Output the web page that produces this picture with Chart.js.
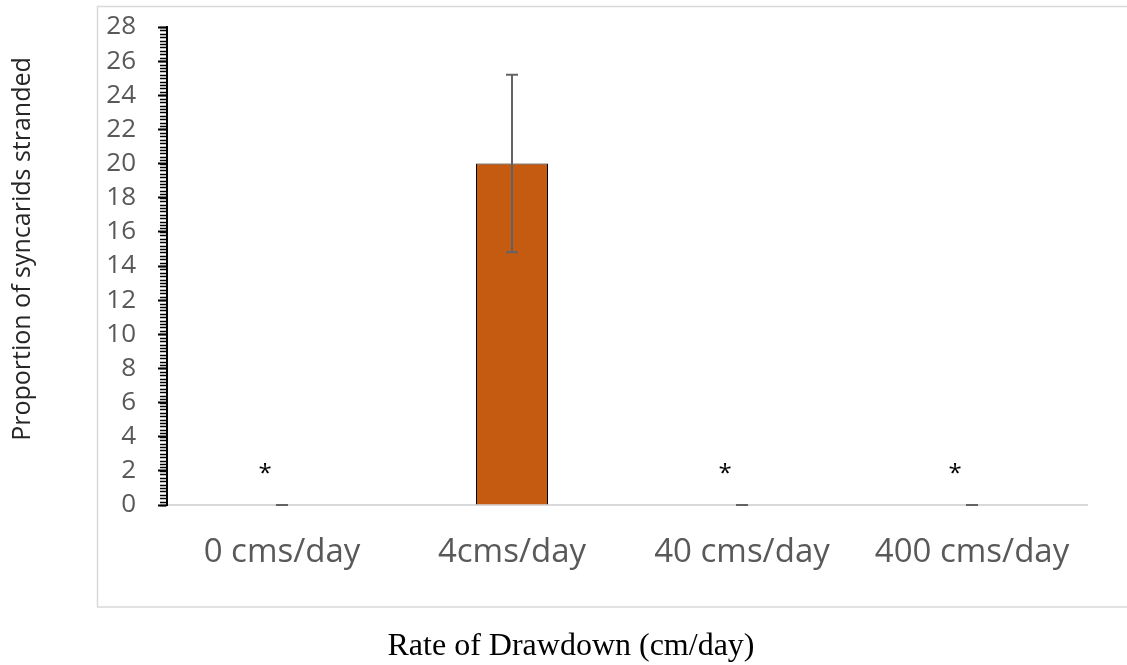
<!DOCTYPE html>
<html>
<head>
<meta charset="utf-8">
<script src="https://cdn.jsdelivr.net/npm/chart.js@4.4.0/dist/chart.umd.min.js"></script>
<style>
  html, body { margin: 0; padding: 0; background: #fff; }
  #wrap { width: 1127px; height: 665px; position: relative; }
</style>
</head>
<body>
<div id="wrap"><canvas id="chart" width="1127" height="665"></canvas></div>
<script>
// Dados do gráfico
const categories = ['0 cms/day', '4cms/day', '40 cms/day', '400 cms/day'];
const stranded = [0, 20, 0, 0];
const errorSize = [0, 5.2, 0, 0];
const markers = ['*', '', '*', '*'];
const yTicks = [0, 2, 4, 6, 8, 10, 12, 14, 16, 18, 20, 22, 24, 26, 28];
const yTitle = 'Proportion of syncarids stranded';
const xTitle = 'Rate of Drawdown (cm/day)';

// Moldura cinza e títulos dos eixos
const framePlugin = {
    id: 'frame',
    beforeDraw(chart) {
        const ctx = chart.ctx;
        ctx.save();
        ctx.strokeStyle = '#d9d9d9';
        ctx.lineWidth = 1.5;
        ctx.strokeRect(97.5, 6.5, 1040, 600.5);

        ctx.fillStyle = '#000';
        ctx.textAlign = 'center';
        ctx.textBaseline = 'middle';
        ctx.font = '32px "Liberation Serif"';
        ctx.fillText(xTitle, 571, 647);

        ctx.fillStyle = '#262626';
        ctx.font = '25px "Open Sans"';
        ctx.translate(23, 249);
        ctx.rotate(-Math.PI / 2);
        ctx.fillText(yTitle, 0, 0);
        ctx.restore();
    }
};

// Marcas menores do eixo Y, barras de erro e asteriscos
const extrasPlugin = {
    id: 'extras',
    afterDatasetsDraw(chart) {
        const ctx = chart.ctx;
        const y = chart.scales.y;
        const x = chart.scales.x;
        ctx.save();

        // minor ticks a cada 0.2
        ctx.strokeStyle = '#000';
        ctx.lineWidth = 1.5;
        const axisX = chart.chartArea.left;
        for (let v = 0; v <= 28.001; v += 0.2) {
            const py = Math.round(y.getPixelForValue(v)) + 0.5;
            ctx.beginPath();
            ctx.moveTo(axisX - 7, py);
            ctx.lineTo(axisX, py);
            ctx.stroke();
        }

        // barras de erro
        ctx.strokeStyle = '#636363';
        ctx.lineWidth = 2;
        stranded.forEach((val, i) => {
            const cx = x.getPixelForValue(i);
            const top = y.getPixelForValue(val + errorSize[i]);
            const bot = y.getPixelForValue(val - errorSize[i]);
            ctx.beginPath();
            ctx.moveTo(cx, top);
            ctx.lineTo(cx, bot);
            ctx.moveTo(cx - 6, top);
            ctx.lineTo(cx + 6, top);
            ctx.moveTo(cx - 6, bot);
            ctx.lineTo(cx + 6, bot);
            ctx.stroke();
        });

        // asteriscos
        ctx.fillStyle = '#000';
        ctx.font = '24px "Open Sans"';
        ctx.textAlign = 'center';
        ctx.textBaseline = 'middle';
        markers.forEach((m, i) => {
            if (!m) return;
            ctx.fillText(m, x.getPixelForValue(i) - 17, y.getPixelForValue(2) + 3);
        });
        ctx.restore();
    }
};

new Chart(document.getElementById('chart'), {
    type: 'bar',
    data: {
        labels: categories,
        datasets: [{
            label: yTitle,
            data: stranded,
            backgroundColor: '#c55a11',
            borderColor: '#000',
            borderWidth: 1,
            categoryPercentage: 1,
            barPercentage: 0.313
        }]
    },
    options: {
        responsive: false,
        animation: false,
        layout: { padding: { left: 0, right: 40, top: 27, bottom: 0 } },
        plugins: { legend: { display: false }, tooltip: { enabled: false } },
        scales: {
            x: {
                grid: { display: false, drawTicks: false },
                border: { color: '#d9d9d9', width: 2 },
                ticks: {
                    color: '#595959',
                    font: { family: '"Open Sans"', size: 33 },
                    padding: 28
                },
                afterFit(scale) { scale.height = 160; }
            },
            y: {
                min: 0,
                max: 28,
                afterBuildTicks(scale) { scale.ticks = yTicks.map(v => ({ value: v })); },
                grid: {
                    drawOnChartArea: false,
                    drawTicks: true,
                    tickLength: 9,
                    tickColor: '#000',
                    tickWidth: 2
                },
                border: { color: '#000', width: 2 },
                ticks: {
                    color: '#595959',
                    font: { family: '"Open Sans"', size: 26 },
                    padding: 22,
                    autoSkip: false
                },
                afterFit(scale) {
                    scale.width = 167;
                    scale.paddingTop = 0;
                    scale.paddingBottom = 0;
                }
            }
        }
    },
    plugins: [framePlugin, extrasPlugin]
});
</script>
</body>
</html>
